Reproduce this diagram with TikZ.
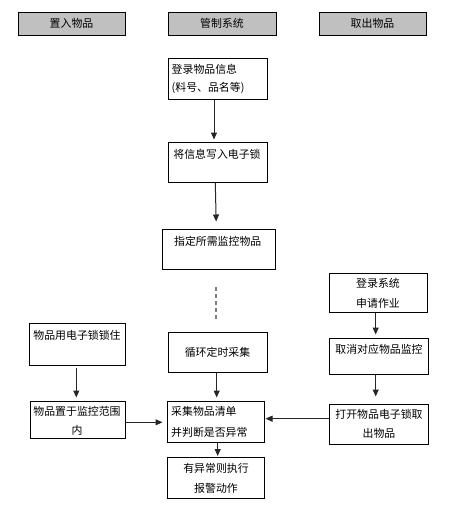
\documentclass[tikz,border=0pt]{standalone}
\usepackage{fontspec}
\newfontfamily\cjk{Noto Sans CJK SC}
\usetikzlibrary{arrows.meta}
\definecolor{hgray}{HTML}{C0C0C0}
\newcommand\mybox[6]{\node[#1, minimum width={#5-#3}, minimum height={#6-#4}] (#2) at ({(#3+#5)/2},{(#4+#6)/2}) {};}
\begin{document}
\begin{tikzpicture}[x=1pt,y=-1pt,
 box/.style={draw=black, line width=1pt, inner sep=0pt},
 hdr/.style={box, fill=hgray},
 txt/.style={font=\cjk\fontsize{10.9}{20}\selectfont, inner sep=0pt, align=center},
 arr/.style={draw=black!85, line width=1pt, -{Triangle[length=7pt,width=6pt]}},
 dsh/.style={draw=black!50, line width=1.3pt, dash pattern=on 4pt off 3pt},
]
\useasboundingbox (0,0) rectangle (453,509);
% header boxes
\mybox{hdr}{h1}{18}{12}{125}{35}
\mybox{hdr}{h2}{168}{12}{276}{35}
\mybox{hdr}{h3}{319}{12}{426}{35}
\node[txt] (th1) at (71.5,23.5) {置入物品};
\node[txt] (th2) at (222,23.5) {管制系统};
\node[txt] (th3) at (372.5,23.5) {取出物品};
% middle column
\mybox{box}{a1}{168}{58}{267}{99}
\mybox{box}{a2}{168}{142}{267}{182}
\mybox{box}{a3}{162}{229}{275}{269}
\mybox{box}{a4}{168}{332}{267}{372}
\mybox{box}{a5}{167}{401}{264}{442}
\mybox{box}{a6}{167}{457}{264}{498}
\node[txt, align=left, anchor=west, font=\cjk\fontsize{10.9}{18}\selectfont] (ta1) at (171.5,78.5) {登录物品信息\\(料号、品名等)};
\node[txt] (ta2) at (217,154) {将信息写入电子锁};
\node[txt] (ta3) at (217.7,241.7) {指定所需监控物品};
\node[txt] (ta4) at (217.5,352) {循环定时采集};
\node[txt, align=left, anchor=west, font=\cjk\fontsize{10.9}{20.6}\selectfont] (ta5) at (171,422) {采集物品清单\\并判断是否异常};
\node[txt] (ta6) at (216,478.3) {有异常则执行\\报警动作};
% left column
\mybox{box}{l1}{29}{323}{125}{365}
\mybox{box}{l2}{30}{401}{125}{438}
\node[txt] (tl1) at (77,335) {物品用电子锁锁住};
\node[txt, font=\cjk\fontsize{10.9}{18.3}\selectfont] (tl2) at (77,420.8) {物品置于监控范围\\内};
% right column
\mybox{box}{r1}{329}{273}{427}{312}
\mybox{box}{r2}{329}{338}{428}{374}
\mybox{box}{r3}{329}{404}{428}{444}
\node[txt] (tr1) at (378,293.3) {登录系统\\申请作业};
\node[txt] (tr2) at (379,349.3) {取消对应物品监控};
\node[txt, font=\cjk\fontsize{10.9}{19}\selectfont] (tr3) at (379,423.8) {打开物品电子锁取\\出物品};
% connectors
\coordinate (d1) at (216,287);
\coordinate (d2) at (216,320);
\draw[arr, shorten >=2pt] ([xshift=-3.5pt]a1.south) -- ([xshift=-3.5pt]a2.north);
\draw[arr, shorten >=7pt] ([xshift=-2.2pt]a2.south) -- ([xshift=-2.2pt]a3.north);
\draw[dsh] (d1) -- (d2);
\draw[arr, shorten >=3pt] ([xshift=-0.8pt]a4.south) -- ([xshift=-0.8pt]a4.south |- a5.north);
\draw[arr, shorten >=0.5pt] ([xshift=2.2pt]a5.south) -- ([xshift=2.2pt]a6.north);
\draw[arr, shorten <=2pt, shorten >=3pt] ([xshift=-0.7pt]l1.south) -- ([xshift=-0.7pt]l1.south |- l2.north);
\draw[arr, shorten >=4pt] ([yshift=-2.8pt]l2.east) -- ([yshift=-2.8pt]l2.east -| a5.west);
\draw[arr, shorten >=3pt] ([xshift=-2.3pt]r1.south) -- ([xshift=-2.3pt]r1.south |- r2.north);
\draw[arr, shorten >=7pt] ([xshift=-2.8pt]r2.south) -- ([xshift=-2.8pt]r2.south |- r3.north);
\draw[arr, shorten >=1pt] ([yshift=5.3pt]r3.west) -- ([yshift=5.3pt]r3.west -| a5.east);
\end{tikzpicture}
\end{document}
